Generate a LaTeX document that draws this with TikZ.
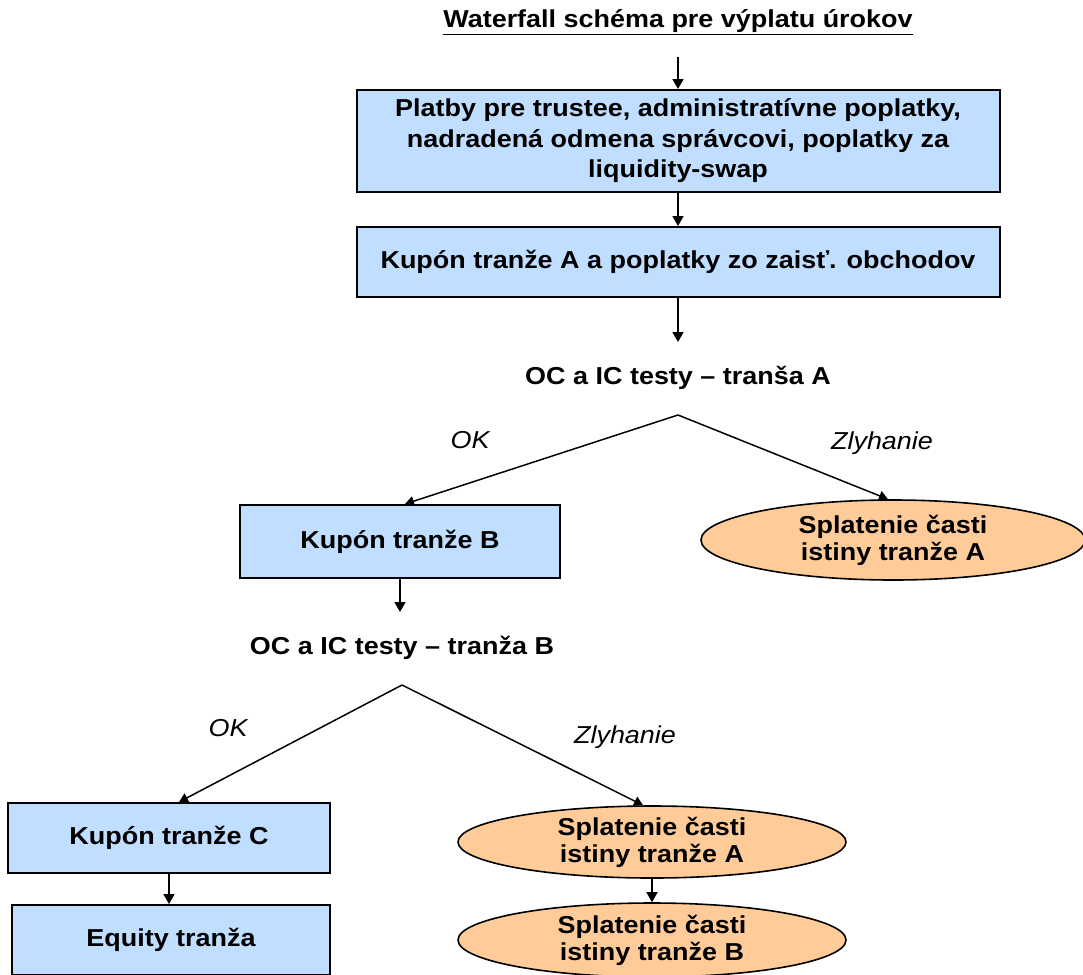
\documentclass[tikz,border=0pt]{standalone}
\usepackage{fontspec}
\setmainfont{Liberation Sans}[FakeStretch=1.1]
\usetikzlibrary{shapes.geometric,arrows.meta}
\definecolor{boxblue}{RGB}{192,222,255}
\definecolor{ellorange}{RGB}{255,204,153}
\begin{document}
\begin{tikzpicture}[x=1pt,y=-1pt,
  txt/.style={font=\fontsize{24.5}{30.5}\selectfont\bfseries, align=center},
  bluebox/.style={txt, rectangle, draw=black, line width=2pt, fill=boxblue, inner sep=0pt},
  ellnode/.style={txt, font=\fontsize{24.5}{27}\selectfont\bfseries, ellipse, draw=black, line width=1.6pt, fill=ellorange, inner sep=0pt},
  lbl/.style={font=\fontsize{24.5}{30}\selectfont\itshape},
  arr/.style={-{Triangle[length=10pt,width=11pt]}, line width=1.6pt},
  branch/.style={line width=1.5pt, -{Triangle[length=9pt,width=10pt]}},
]
\useasboundingbox (0,0) rectangle (1083,974);

\node[txt] (title) at (678,22) {\underline{Waterfall schéma pre výplatu úrokov}};
\node[bluebox, minimum width=643pt, minimum height=102pt] (box1) at (678,141)
  {\raisebox{-3pt}{\parbox{600pt}{\centering Platby pre trustee, administratívne poplatky,\\nadradená odmena správcovi, poplatky za\\liquidity-swap}}};
\node[bluebox, minimum width=643pt, minimum height=70pt] (box2) at (678,262)
  {Kupón tranže A a poplatky zo zaisť. obchodov};
\node[txt] (testA) at (678,378) {OC a IC testy – tranša A};
\coordinate (tStart) at (678,57);
\coordinate (aEnd) at (678,342);
\coordinate (apexA) at (678,415);

\node[bluebox, minimum width=320pt, minimum height=73pt] (boxB) at (400,541.5) {Kupón tranže B};
\node[ellnode, minimum width=384pt, minimum height=80pt] (ellA) at (893,540)
  {Splatenie časti\\istiny tranže A};
\node[lbl] (okA) at (470,440) {OK};
\node[lbl] (zlA) at (882,443) {Zlyhanie};

\node[txt] (testB) at (402,648) {OC a IC testy – tranža B};
\coordinate (bEnd) at (400,612);
\coordinate (apexB) at (402,685);

\node[bluebox, minimum width=322pt, minimum height=70pt] (boxC) at (169,838) {Kupón tranže C};
\node[bluebox, minimum width=318pt, minimum height=70pt] (boxE) at (171,940) {Equity tranža};
\node[ellnode, minimum width=388pt, minimum height=72pt] (ellB) at (652,842)
  {Splatenie časti\\istiny tranže A};
\node[ellnode, minimum width=388pt, minimum height=74pt] (ellC) at (652,940)
  {Splatenie časti\\istiny tranže B};
\node[lbl] (okB) at (228,728) {OK};
\node[lbl] (zlB) at (625,737) {Zlyhanie};

\draw[arr] (tStart) -- (box1.north);
\draw[arr] (box1.south) -- (box2.north);
\draw[arr] (box2.south) -- (aEnd);
\draw[branch] (apexA) -- ([xshift=5pt]boxB.north);
\draw[branch] (apexA) -- ([xshift=-5pt]ellA.north);
\draw[arr] (boxB.south) -- (bEnd);
\draw[branch] (apexB) -- ([xshift=10pt]boxC.north);
\draw[branch] (apexB) -- ([xshift=-9pt]ellB.north);
\draw[arr] (boxC.south) -- (boxC.south |- boxE.north);
\draw[arr] (ellB.south) -- (ellC.north);
\end{tikzpicture}
\end{document}
